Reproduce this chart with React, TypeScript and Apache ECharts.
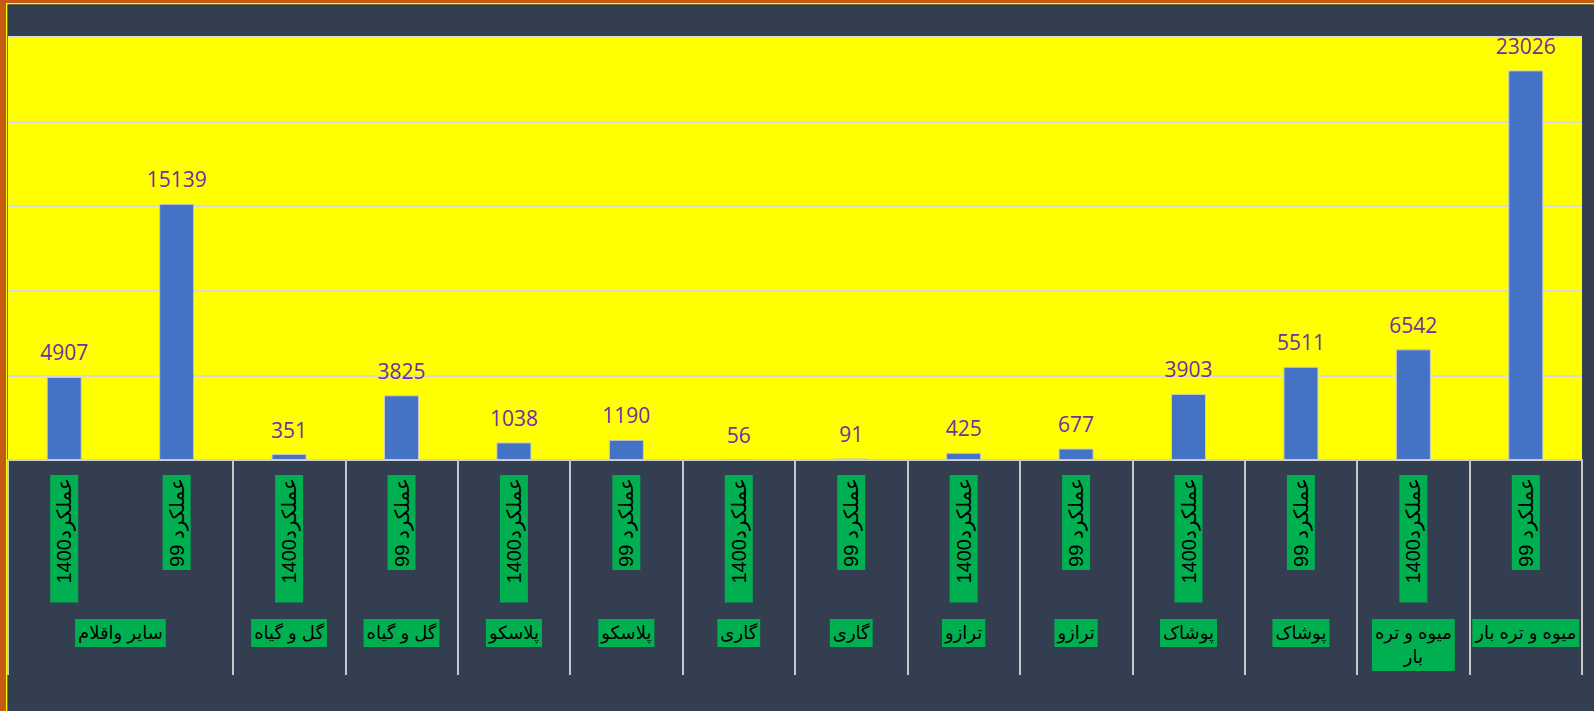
import React, { useEffect, useRef } from "react";
import * as echarts from "echarts";

const categories = [
  "عملکرد1400", "عملکرد 99",
  "عملکرد1400", "عملکرد 99",
  "عملکرد1400", "عملکرد 99",
  "عملکرد1400", "عملکرد 99",
  "عملکرد1400", "عملکرد 99",
  "عملکرد1400", "عملکرد 99",
  "عملکرد1400", "عملکرد 99",
];
const values = [4907, 15139, 351, 3825, 1038, 1190, 56, 91, 425, 677, 3903, 5511, 6542, 23026];
const groupNames = [
  "سایر واقلام", "گل و گیاه", "گل و گیاه", "پلاسکو", "پلاسکو", "گاری", "گاری",
  "ترازو", "ترازو", "پوشاک", "پوشاک", "میوه و تره\nبار", "میوه و تره بار",
];
const groupSpans = [2, 1, 1, 1, 1, 1, 1, 1, 1, 1, 1, 1, 1];

export default function App() {
  const ref = useRef<HTMLDivElement>(null);
  useEffect(() => {
    if (!ref.current) return;
    const chart = echarts.init(ref.current, undefined, { renderer: "svg" });
    const bounds: number[] = [0];
    const centers: number[] = [];
    let acc = 0;
    groupSpans.forEach((s) => {
      centers.push(acc + s / 2);
      acc += s;
      bounds.push(acc);
    });
    const font = "'Liberation Sans', 'DejaVu Sans', Arial, sans-serif";
    const catData = categories.map((c) =>
      c.indexOf("1400") >= 0
        ? { value: c, textStyle: { padding: [2, 3, 2, 19] } }
        : { value: c }
    );
    chart.setOption({
      animation: false,
      backgroundColor: "#333F50",
      graphic: [
        { type: "rect", left: 0, top: 0, shape: { width: 6, height: 711 }, style: { fill: "#C55A11" } },
        { type: "rect", left: 0, top: 0, shape: { width: 1594, height: 3 }, style: { fill: "#C55A11" } },
        { type: "rect", left: 6, top: 3, shape: { width: 1588, height: 1.3 }, style: { fill: "#FFFF00" } },
        { type: "rect", left: 6, top: 3, shape: { width: 1.3, height: 708 }, style: { fill: "#FFFF00" } },
      ],
      grid: {
        left: 8,
        right: 12,
        top: 37,
        bottom: 251,
        show: true,
        backgroundColor: "#FFFF00",
        borderWidth: 0,
      },
      xAxis: [
        {
          type: "category",
          data: catData,
          position: "bottom",
          axisLine: { show: true, lineStyle: { color: "#D0D0D0", width: 2 } },
          axisTick: { show: false },
          axisLabel: {
            interval: 0,
            rotate: 90,
            margin: 15,
            color: "#000000",
            fontFamily: font,
            fontSize: 20,
            lineHeight: 24,
            backgroundColor: "#00B050",
            padding: [2, 3, 2, 3],
          },
        },
        {
          type: "value",
          min: 0,
          max: bounds[bounds.length - 1],
          position: "bottom",
          axisLine: { show: false },
          splitLine: { show: false },
          axisTick: {
            show: true,
            customValues: bounds,
            length: 215,
            lineStyle: { color: "#C8C8C8", width: 2 },
          },
          axisLabel: {
            show: true,
            customValues: centers,
            margin: 159,
            color: "#000000",
            fontFamily: font,
            fontSize: 18,
            lineHeight: 24,
            backgroundColor: "#00B050",
            padding: [2, 3, 2, 3],
            formatter: (v: number) => {
              const idx = centers.findIndex((c) => Math.abs(c - v) < 1e-6);
              return idx >= 0 ? groupNames[idx] : "";
            },
          },
        },
      ],
      yAxis: {
        type: "value",
        min: 0,
        max: 25000,
        interval: 5000,
        axisLabel: { show: false },
        axisLine: { show: false },
        axisTick: { show: false },
        splitLine: { show: true, lineStyle: { color: "#D9D9D9", width: 2 } },
      },
      series: [
        {
          type: "bar",
          xAxisIndex: 0,
          data: values,
          barWidth: 35,
          itemStyle: { color: "#4472C4", borderColor: "#C9C9C9", borderWidth: 1 },
          label: {
            show: true,
            position: "top",
            distance: 14,
            color: "#7030A0",
            fontFamily: "'Open Sans', 'Noto Sans', sans-serif",
            fontSize: 21,
          },
        },
      ],
    });
    return () => chart.dispose();
  }, []);
  return (
    <div
      ref={ref}
      style={{ position: "fixed", left: 0, top: 0, width: 1594, height: 711 }}
    />
  );
}
